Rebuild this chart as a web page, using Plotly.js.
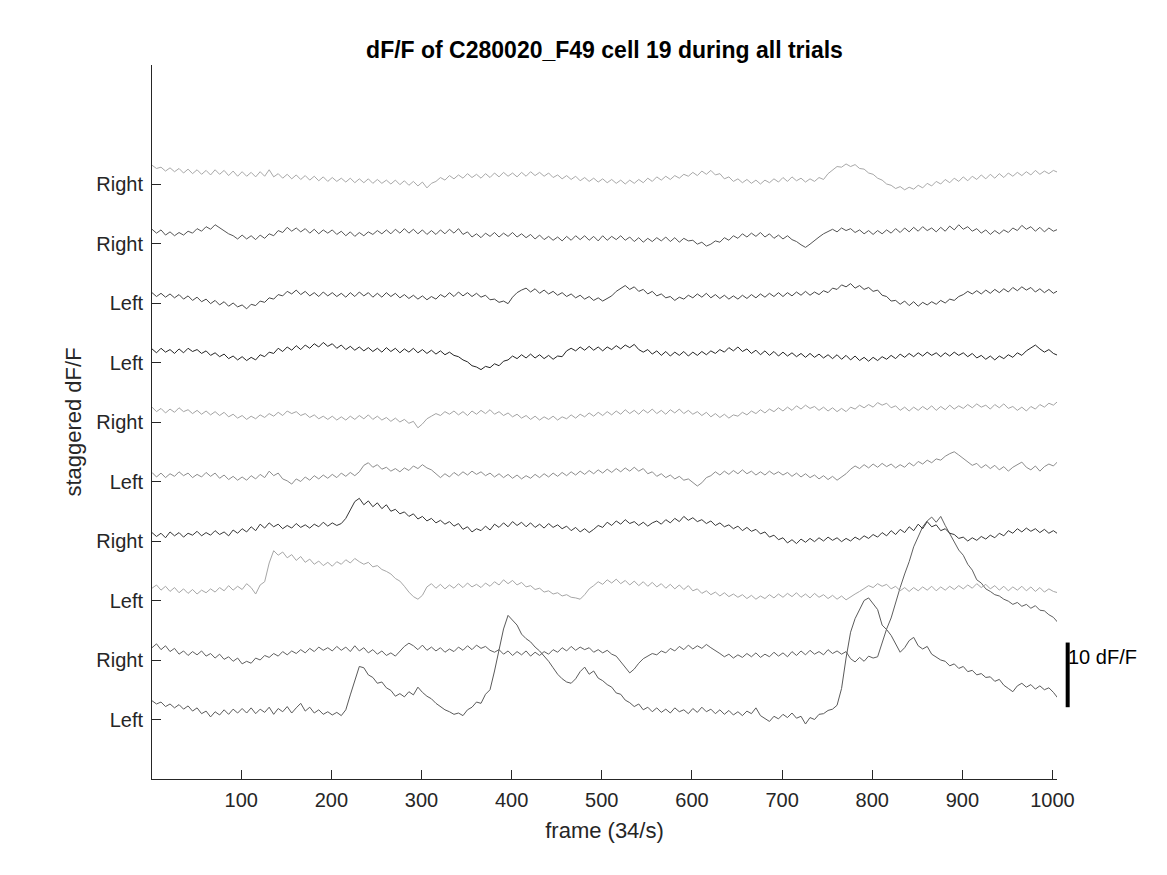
<!DOCTYPE html>
<html><head><meta charset="utf-8">
<script src="https://cdn.plot.ly/plotly-3.0.1.min.js"></script>
<style>html,body{margin:0;padding:0;background:#fff}</style>
</head><body>
<div id="chart" style="width:1167px;height:875px"></div>
<script>
// ---- data ----
const frameStart = 1;
const frameStep = 5;
const trialLabels = ["Left","Right","Left","Right","Left","Right","Left","Left","Right","Right"];
const trialOffset = 9.2;              // stagger between trials, dF/F
const xTickVals = [100,200,300,400,500,600,700,800,900,1000];
const scaleBarSize = 10;              // dF/F
const scaleBarLabel = "10 dF/F";

const trial01 = [
2.9,2.4,2.7,2.0,2.4,1.8,2.3,1.6,2.1,1.3,1.8,0.9,1.3,0.4,1.2,0.7,1.5,0.8,1.6,1.0,
1.7,1.0,1.8,0.9,1.6,1.1,1.9,0.8,1.7,1.2,2.0,1.0,1.8,2.5,1.3,1.9,1.0,1.5,0.8,1.2,
0.7,1.1,0.6,1.5,3.8,6.2,8.2,8.0,6.9,6.5,5.6,5.8,4.9,4.5,3.6,4.0,3.5,4.3,3.8,5.0,
4.2,3.6,3.2,2.5,2.0,1.5,1.2,0.8,1.0,0.6,1.5,1.9,2.7,2.5,3.9,4.6,7.5,10.5,14.0,16.1,
15.3,14.6,13.2,12.5,12.0,11.2,10.6,9.8,9.0,8.0,7.0,6.3,5.8,5.6,6.3,7.4,8.1,7.0,7.5,6.4,
6.0,5.4,5.0,4.1,3.9,3.0,2.6,2.0,2.4,1.5,1.9,1.2,1.8,1.1,1.6,1.0,1.8,1.2,1.5,0.9,
1.7,1.1,1.9,1.2,1.6,0.9,1.5,0.8,1.4,0.7,1.2,0.6,1.3,0.9,1.8,0.6,0.2,-0.3,0.5,0.1,
0.8,0.3,1.0,0.2,0.5,-0.7,0.3,0.0,0.8,0.9,1.4,1.6,2.2,4.8,9.5,13.5,15.6,17.0,18.4,18.8,
17.8,17.0,14.6,13.9,13.0,11.6,10.4,11.1,12.2,12.7,11.4,10.9,11.3,10.1,9.7,9.2,9.0,8.3,8.6,7.9,
8.2,7.4,7.6,6.9,7.1,6.5,6.6,5.9,6.2,5.3,4.8,4.3,5.2,5.6,5.0,5.4,4.7,5.2,4.6,4.9,
4.2,3.3];

const trial02 = [
1.9,2.5,1.6,2.2,1.3,1.8,0.9,1.4,0.7,1.3,0.8,1.4,0.6,1.0,0.3,0.9,0.1,0.5,-0.2,0.3,
-0.6,-0.2,-0.5,0.3,0.0,0.7,0.4,1.0,0.6,1.3,0.8,1.4,1.0,1.6,1.1,1.8,1.3,2.0,1.5,1.9,
1.4,2.1,1.5,2.0,1.3,2.2,1.4,1.9,1.1,1.6,0.9,1.4,0.7,1.1,0.6,1.4,2.1,2.6,2.2,1.6,
2.3,1.5,2.0,1.4,1.9,1.2,1.7,1.3,2.0,1.5,2.2,1.6,2.3,1.8,2.1,1.5,1.2,1.6,0.9,1.4,
0.7,1.3,0.8,1.4,0.6,1.2,0.7,1.3,0.9,1.6,1.2,1.9,1.4,2.1,1.5,2.0,1.6,1.9,1.2,1.6,
1.1,1.5,0.9,0.6,-0.3,-1.2,-2.0,-1.4,-0.5,0.2,0.6,1.0,0.8,1.4,1.1,1.8,1.4,2.1,1.6,2.3,
1.7,2.2,1.8,2.4,1.9,1.5,1.0,0.5,0.9,0.3,0.8,0.4,1.0,0.5,1.1,0.4,0.9,0.5,1.2,0.6,
1.1,0.5,1.3,0.7,1.4,0.8,1.5,0.9,1.3,0.8,1.6,1.0,1.4,0.9,1.3,0.2,-0.3,0.4,-0.2,0.6,
0.3,0.5,2.6,4.8,6.5,9.0,11.2,13.3,15.2,17.5,19.0,20.6,21.5,22.1,21.3,22.2,20.8,19.6,18.3,17.0,
16.2,14.8,13.9,12.4,11.9,11.0,10.6,10.1,9.9,9.4,9.1,8.6,8.9,8.3,8.6,8.0,8.4,7.7,7.6,7.0,
6.6,5.8];

const trial03 = [
1.9,2.4,1.6,2.2,1.4,2.0,1.2,1.8,1.1,1.7,1.0,1.6,1.2,1.8,1.3,2.0,1.5,2.3,1.6,2.2,
1.7,2.6,2.0,1.0,2.4,2.9,5.8,7.7,7.0,7.5,6.6,7.1,6.2,6.8,5.9,6.4,5.6,6.1,5.4,5.9,
5.3,6.0,5.6,6.3,5.8,6.5,6.0,5.6,5.9,5.2,5.4,4.8,4.5,4.1,3.4,3.0,2.2,1.3,0.6,0.2,
0.8,2.1,2.6,1.9,2.5,1.8,2.4,1.9,2.6,2.0,2.7,2.1,2.5,2.0,2.7,2.2,2.9,2.4,3.2,2.6,
3.1,2.4,2.8,2.1,2.3,1.7,1.9,1.3,1.5,1.0,1.2,0.7,0.9,0.5,0.4,0.2,0.9,1.8,2.3,2.9,
2.5,3.2,2.7,3.3,2.6,3.1,2.4,3.0,2.3,2.9,2.2,2.8,2.1,2.6,1.9,2.5,1.8,2.4,1.7,2.3,
1.5,1.8,1.1,1.5,0.9,1.3,0.7,1.2,0.6,1.0,0.5,0.9,0.3,0.8,0.2,0.7,0.3,0.9,0.4,1.0,
0.5,1.1,0.6,1.2,0.5,1.0,0.4,1.1,0.5,0.9,0.3,0.8,0.2,0.7,0.1,0.6,1.0,1.4,1.8,2.3,
2.0,2.6,2.2,2.5,1.8,2.2,1.5,2.0,1.4,2.0,1.5,2.1,1.6,2.2,1.5,2.1,1.6,2.2,1.7,2.3,
1.8,2.4,1.9,2.6,2.0,2.5,1.8,2.3,1.6,2.2,1.5,2.1,1.6,2.2,1.5,2.1,1.4,2.0,1.3,1.8,
1.4,1.2];

const trial04 = [
1.3,0.7,1.2,0.5,1.4,0.8,1.3,0.6,1.2,0.9,1.5,0.8,1.3,0.9,1.6,1.0,1.4,0.8,1.7,1.2,
1.9,1.4,2.2,1.6,2.6,2.0,2.8,2.2,2.6,1.9,2.4,2.0,2.7,2.1,2.5,2.0,2.6,2.2,2.9,2.3,
2.8,2.4,2.7,3.5,4.8,6.1,6.6,5.6,6.2,5.3,5.9,5.0,5.6,4.6,4.9,4.2,4.5,3.8,4.2,3.4,
3.8,3.1,3.5,2.8,3.2,2.6,3.0,2.3,2.7,1.8,2.2,1.4,1.9,1.6,2.3,1.7,2.6,2.1,2.8,2.2,
3.0,2.4,2.9,2.2,2.8,2.1,2.6,2.0,2.7,2.1,2.5,1.9,2.3,1.6,2.1,1.4,1.9,1.3,1.8,2.4,
2.1,2.9,2.4,3.1,2.6,3.3,2.7,3.0,2.4,2.9,2.3,2.8,3.1,2.6,3.3,2.8,3.5,3.0,3.8,3.2,
3.6,3.0,3.3,2.7,3.1,2.4,2.8,2.2,2.5,1.9,2.3,1.6,2.1,1.5,1.8,1.1,1.4,0.6,0.9,0.2,
0.5,-0.3,0.2,-0.4,0.3,-0.2,0.4,-0.1,0.5,0.0,0.6,0.1,0.5,-0.1,0.4,0.0,0.6,0.2,0.8,0.4,
1.0,0.6,1.3,0.8,1.6,1.0,1.8,1.3,2.2,1.6,2.6,1.9,3.0,2.2,2.5,1.6,1.9,1.2,1.0,0.4,
0.6,0.0,0.5,0.1,0.7,0.3,0.9,0.5,1.2,0.8,1.6,1.2,1.9,1.4,2.0,1.5,1.9,1.3,1.8,1.2,
1.6,1.1];

const trial05 = [
1.4,0.7,1.3,0.6,1.2,0.8,1.5,0.9,1.3,0.6,1.1,0.7,1.4,0.8,1.3,0.5,1.0,0.3,0.8,0.2,
0.7,0.2,0.9,0.4,1.1,0.6,1.6,0.9,1.3,0.4,0.1,-0.4,0.4,0.0,0.7,0.2,0.9,0.4,1.0,0.5,
1.1,0.6,1.3,0.8,1.4,0.9,1.5,2.5,2.9,2.2,2.6,1.9,2.2,1.6,2.0,1.5,2.1,1.7,2.4,2.0,
2.6,2.1,1.8,1.2,0.6,1.2,0.7,1.4,0.9,1.5,1.0,1.6,1.1,1.5,0.9,1.3,0.7,1.2,0.6,1.1,
0.5,1.0,0.4,0.9,0.5,1.1,0.6,1.2,0.7,1.3,0.8,1.4,0.9,1.5,1.0,1.6,1.1,1.7,1.2,1.8,
1.3,1.9,1.4,2.0,1.5,2.1,1.6,2.2,1.6,2.0,1.2,1.5,0.8,1.2,0.6,1.0,0.4,0.8,0.2,0.4,
-0.2,-0.7,-0.2,0.6,0.9,1.5,1.0,1.6,1.1,1.7,1.2,1.8,1.2,1.6,1.0,1.5,1.0,1.6,1.1,1.5,
1.0,1.4,0.8,1.3,0.7,1.2,0.6,1.0,0.4,0.9,0.3,0.8,0.2,0.7,1.2,1.9,2.4,2.0,2.6,2.1,
2.7,2.2,2.8,2.3,2.7,2.1,2.6,2.2,2.9,2.4,3.1,2.7,3.3,2.9,3.5,3.3,3.9,4.3,4.6,4.1,
3.6,3.1,2.5,2.8,2.1,2.6,2.0,2.5,1.8,2.3,1.6,2.2,2.6,3.0,2.2,1.8,2.4,1.6,2.3,2.7,
2.4,3.1];

const trial06 = [
2.3,1.6,2.1,1.4,2.0,1.5,2.2,1.6,1.9,1.3,1.8,1.2,1.7,1.1,1.6,1.0,1.5,0.8,1.2,0.6,
1.0,0.4,0.9,0.5,1.1,0.7,1.3,0.9,1.5,1.0,1.7,1.3,1.6,1.0,1.3,0.7,1.1,0.5,0.9,0.4,
0.9,0.3,0.8,0.3,0.9,0.4,1.0,0.5,1.1,0.4,0.9,0.3,0.7,0.1,0.6,0.0,0.4,-0.2,0.1,-0.9,
-0.3,0.5,0.9,1.3,1.0,1.6,1.2,1.7,1.1,1.6,1.0,1.7,1.2,1.8,1.3,1.9,1.2,1.6,1.0,1.4,
0.8,1.2,0.6,1.0,0.4,0.9,0.3,0.8,0.4,0.9,0.3,0.8,0.5,1.1,0.6,1.2,0.8,1.4,0.9,1.5,
1.0,1.6,1.1,1.7,1.2,1.9,1.3,1.8,1.2,1.9,1.4,2.0,1.3,1.8,1.2,1.9,1.4,2.0,1.3,1.8,
1.2,1.6,1.0,1.5,0.8,1.3,0.7,1.2,0.6,1.1,0.9,1.5,1.1,1.7,1.3,1.9,1.4,2.0,1.6,2.2,
1.7,2.3,1.8,2.5,2.0,2.6,2.1,2.4,1.8,2.3,1.7,2.2,1.6,2.1,1.6,2.3,2.0,2.6,2.2,2.7,
2.3,3.0,2.6,2.9,2.2,2.5,1.8,2.3,1.7,2.3,1.8,2.4,1.9,2.5,1.8,2.4,1.9,2.6,2.0,2.5,
2.1,2.7,2.2,2.8,2.3,2.6,2.0,2.7,2.2,2.8,2.1,2.4,1.8,2.3,1.7,2.4,2.0,2.7,2.3,2.9,
2.6,3.2];

const trial07 = [
2.1,1.5,2.2,1.6,2.0,1.4,2.1,1.5,2.2,1.7,2.0,1.4,1.8,1.1,1.5,0.9,1.3,0.6,1.0,0.4,
0.9,0.3,0.8,0.4,1.2,0.9,1.6,1.4,2.2,1.7,2.4,1.9,2.6,2.0,2.7,2.2,2.9,2.4,3.1,2.5,
2.9,2.2,2.7,2.0,2.5,1.9,2.4,1.8,2.3,1.7,2.2,1.6,2.3,1.7,2.2,1.5,2.1,1.6,2.2,1.5,
2.0,1.4,1.9,1.3,1.8,1.2,1.6,1.1,0.9,0.4,0.1,-0.5,-0.7,-1.1,-0.6,-0.8,-0.2,-0.5,0.2,0.4,
1.0,0.6,1.2,0.7,1.3,0.7,1.2,0.6,1.1,0.5,1.0,0.9,1.8,2.2,1.8,2.4,1.9,2.5,1.9,2.4,
1.8,2.4,2.0,2.6,2.1,2.7,2.3,2.8,2.0,1.6,2.0,1.3,1.8,1.1,1.7,1.0,1.6,1.1,1.7,1.0,
1.6,1.1,1.7,1.2,1.8,1.4,2.0,1.6,2.3,1.8,2.4,1.7,2.1,1.4,1.9,1.2,1.8,1.1,1.7,1.0,
1.6,1.0,1.5,0.9,1.4,0.8,1.4,0.8,1.3,0.7,1.2,0.6,1.2,0.5,1.1,0.4,1.0,0.3,0.8,0.2,
0.8,0.3,0.9,0.5,1.1,0.6,1.3,0.8,1.4,0.9,1.5,1.0,1.6,1.1,1.5,0.9,1.5,1.0,1.6,1.1,
1.5,0.9,1.4,0.7,1.1,0.5,1.0,0.4,1.0,0.6,1.2,0.8,1.5,1.1,1.8,2.2,2.7,2.1,1.6,2.0,
1.4,1.1];

const trial08 = [
1.6,1.0,1.5,0.9,1.4,0.8,1.3,0.6,1.1,0.4,0.9,0.2,0.6,-0.1,0.4,-0.3,0.2,-0.5,0.0,-0.6,
-0.3,-0.9,-0.2,-0.4,0.3,0.1,0.8,0.6,1.3,1.1,1.8,1.4,2.0,1.3,1.8,1.1,1.6,1.0,1.7,1.1,
1.6,1.0,1.5,0.9,1.6,1.0,1.7,1.1,1.6,0.9,1.5,0.9,1.6,1.0,1.5,0.8,1.3,0.7,1.2,0.6,
1.1,0.5,1.0,0.6,1.3,0.9,1.6,1.0,1.7,1.1,1.6,1.0,1.5,0.9,1.2,0.5,0.6,0.1,0.3,-0.1,
0.9,1.6,2.0,2.3,1.7,2.2,1.5,2.0,1.4,1.8,1.2,1.6,1.0,1.4,0.8,1.2,0.6,1.0,0.4,0.8,
0.3,0.7,1.1,1.8,2.2,2.7,2.1,2.5,1.8,2.1,1.4,1.8,1.1,1.4,0.8,1.0,0.4,0.9,0.6,1.2,
0.8,1.4,0.9,1.5,0.8,1.3,0.7,1.2,0.6,1.1,0.6,1.2,0.7,1.3,0.8,1.4,0.9,1.5,1.0,1.6,
1.0,1.6,1.1,1.7,1.2,1.8,1.2,1.7,1.3,1.9,1.6,2.3,2.1,2.8,2.5,3.0,2.3,2.7,2.1,2.4,
1.8,2.0,1.2,1.0,0.3,0.4,-0.2,0.3,-0.4,0.2,-0.5,0.1,-0.3,0.2,-0.2,0.4,0.0,0.6,0.4,1.0,
1.3,1.8,1.4,1.9,1.4,2.0,1.5,2.1,1.6,2.2,1.7,2.4,1.9,2.5,2.0,2.4,1.7,2.2,1.6,2.1,
1.5,1.9];

const trial09 = [
2.2,1.6,2.1,1.3,1.8,1.2,1.7,1.3,1.9,1.6,2.3,1.9,2.6,2.2,2.9,2.4,2.0,1.5,1.2,0.7,
1.3,0.7,1.2,0.6,1.3,0.8,1.5,1.2,2.0,1.7,2.5,1.9,2.4,1.8,2.3,1.6,2.2,1.5,2.1,1.6,
2.1,1.4,1.9,1.2,1.8,1.1,1.7,1.2,1.8,1.4,2.0,1.5,2.1,1.5,2.2,1.6,2.3,1.6,2.2,1.5,
2.1,1.4,2.0,1.4,2.1,1.5,2.2,1.6,2.3,1.4,1.8,1.0,1.5,0.9,1.6,1.1,1.7,1.0,1.6,1.1,
1.7,1.0,1.5,0.9,1.4,0.7,1.3,0.6,1.1,0.5,1.0,0.4,1.1,0.5,1.2,0.6,1.2,0.5,1.1,0.4,
1.2,0.5,1.1,0.6,1.2,0.5,1.0,0.3,0.9,0.2,0.8,0.3,0.9,0.4,1.0,0.3,0.9,0.2,0.8,0.4,
0.5,-0.1,0.2,-0.4,-0.1,0.4,0.2,0.9,0.5,1.2,0.8,1.5,1.0,1.6,1.1,1.7,1.0,1.5,0.8,1.3,
0.7,1.2,0.6,0.3,-0.2,-0.6,-0.1,0.5,1.0,1.5,1.9,2.2,1.8,2.4,2.0,2.3,1.7,2.1,1.5,2.0,
1.4,2.0,1.5,2.1,1.6,2.3,1.7,2.4,1.8,2.5,1.9,2.6,2.0,2.4,1.8,2.5,1.9,2.7,2.1,2.9,
2.2,2.6,1.9,2.3,1.6,2.1,1.4,2.0,1.5,2.1,1.7,2.4,2.0,2.8,2.2,2.6,1.9,2.5,1.8,2.4,
1.9,2.2];

const trial10 = [
2.9,2.4,2.6,2.0,2.5,1.9,2.4,1.7,2.3,1.6,2.2,1.5,2.1,1.4,2.2,1.5,2.1,1.3,2.0,1.2,
1.9,1.2,1.8,1.1,1.9,1.2,2.2,1.1,1.6,0.9,1.5,0.8,1.4,0.7,1.3,0.6,1.2,0.5,1.1,0.4,
1.0,0.4,0.9,0.3,0.9,0.2,0.8,0.2,0.8,0.1,0.7,0.1,0.6,0.0,0.6,-0.1,0.5,-0.2,0.4,-0.3,
0.3,-0.6,0.1,0.4,1.0,0.6,1.3,0.8,1.4,0.9,1.6,1.0,1.5,0.9,1.6,1.0,1.7,1.1,1.8,1.2,
1.7,1.1,1.8,1.2,1.9,1.3,1.8,1.2,1.7,1.0,1.4,0.8,1.3,0.7,1.2,0.5,1.0,0.4,0.9,0.3,
0.8,0.2,0.7,0.1,0.6,0.0,0.6,0.1,0.7,0.2,0.9,0.4,1.1,0.6,1.2,0.7,1.3,0.9,1.5,1.2,
1.8,1.3,2.0,1.5,2.1,1.4,1.6,0.8,1.1,0.4,0.8,0.2,0.7,0.1,0.6,0.0,0.6,0.2,0.8,0.3,
1.0,0.4,1.1,0.5,0.9,0.3,0.8,0.4,1.0,0.7,1.6,2.1,2.7,2.6,3.1,2.7,3.0,2.4,2.3,1.7,
1.5,0.9,0.6,0.0,-0.2,-0.7,-0.4,-0.9,-0.5,-0.8,-0.2,-0.6,0.1,-0.3,0.4,0.0,0.7,0.2,0.9,0.4,
1.1,0.5,1.2,0.7,1.4,0.8,1.5,0.9,1.6,1.0,1.7,1.2,1.8,1.3,1.9,1.4,2.1,1.5,2.0,1.6,
2.1,1.8];

const trialColors = ["#5a5a5a","#5f5f5f","#a6a6a6","#363636","#8c8c8c","#a3a3a3","#242424","#454545","#555555","#a8a8a8"];

// ---- build traces ----
const trials = [trial01,trial02,trial03,trial04,trial05,trial06,trial07,trial08,trial09,trial10];
const frames = trial01.map((_, i) => frameStart + frameStep * i);
const traces = trials.map((vals, k) => ({
  type: 'scatter', mode: 'lines',
  x: frames,
  y: vals.map(v => v + (k + 1) * trialOffset),
  line: {color: trialColors[k], width: 1},
  hoverinfo: 'skip', showlegend: false
}));
const yTickVals = trialLabels.map((_, k) => (k + 1) * trialOffset);
const nTrials = trialLabels.length;
const yMax = (nTrials + 2) * trialOffset;

const FONT = 'Liberation Sans, Arial, Helvetica, sans-serif';
const AXC = '#262626';

const barBottom = 11.1;
const layout = {
  width: 1167, height: 875,
  margin: {l: 152, r: 110, t: 65, b: 96},
  paper_bgcolor: '#fff', plot_bgcolor: '#fff',
  font: {family: FONT, color: AXC, size: 20},
  showlegend: false,
  title: {
    text: 'dF/F of C280020_F49 cell 19 during all trials',
    font: {family: FONT, size: 23, color: '#000', weight: 'bold'},
    x: 0.5, xanchor: 'center', xref: 'paper',
    y: 1 - 50 / 875, yanchor: 'middle', yref: 'container'
  },
  xaxis: {
    range: [1, 1005], tickvals: xTickVals, ticktext: xTickVals.map(String),
    ticks: 'inside', ticklen: 9, tickwidth: 1, tickcolor: AXC,
    showline: true, linecolor: AXC, linewidth: 1, mirror: false,
    showgrid: false, zeroline: false, ticklabelstandoff: 3,
    tickfont: {family: FONT, size: 20, color: AXC},
    title: {text: 'frame (34/s)', font: {family: FONT, size: 22, color: AXC}, standoff: 12}
  },
  yaxis: {
    range: [0, yMax], tickvals: yTickVals, ticktext: trialLabels,
    ticks: 'inside', ticklen: 9, tickwidth: 1, tickcolor: AXC,
    showline: true, linecolor: AXC, linewidth: 1, mirror: false,
    showgrid: false, zeroline: false, ticklabelstandoff: 4,
    tickfont: {family: FONT, size: 20, color: AXC},
    title: {text: 'staggered dF/F', font: {family: FONT, size: 22, color: AXC}, standoff: 8}
  },
  shapes: [{
    type: 'line', xref: 'paper', yref: 'y',
    x0: 1.0118, x1: 1.0118, y0: barBottom, y1: barBottom + scaleBarSize,
    line: {color: '#000', width: 4}
  }],
  annotations: [{
    text: scaleBarLabel, xref: 'paper', yref: 'y',
    x: 1.0102, y: 18.9, xanchor: 'left', yanchor: 'middle',
    showarrow: false, font: {family: FONT, size: 20, color: '#000'}
  }]
};

Plotly.newPlot('chart', traces, layout, {displayModeBar: false, staticPlot: true});
</script>
</body></html>
